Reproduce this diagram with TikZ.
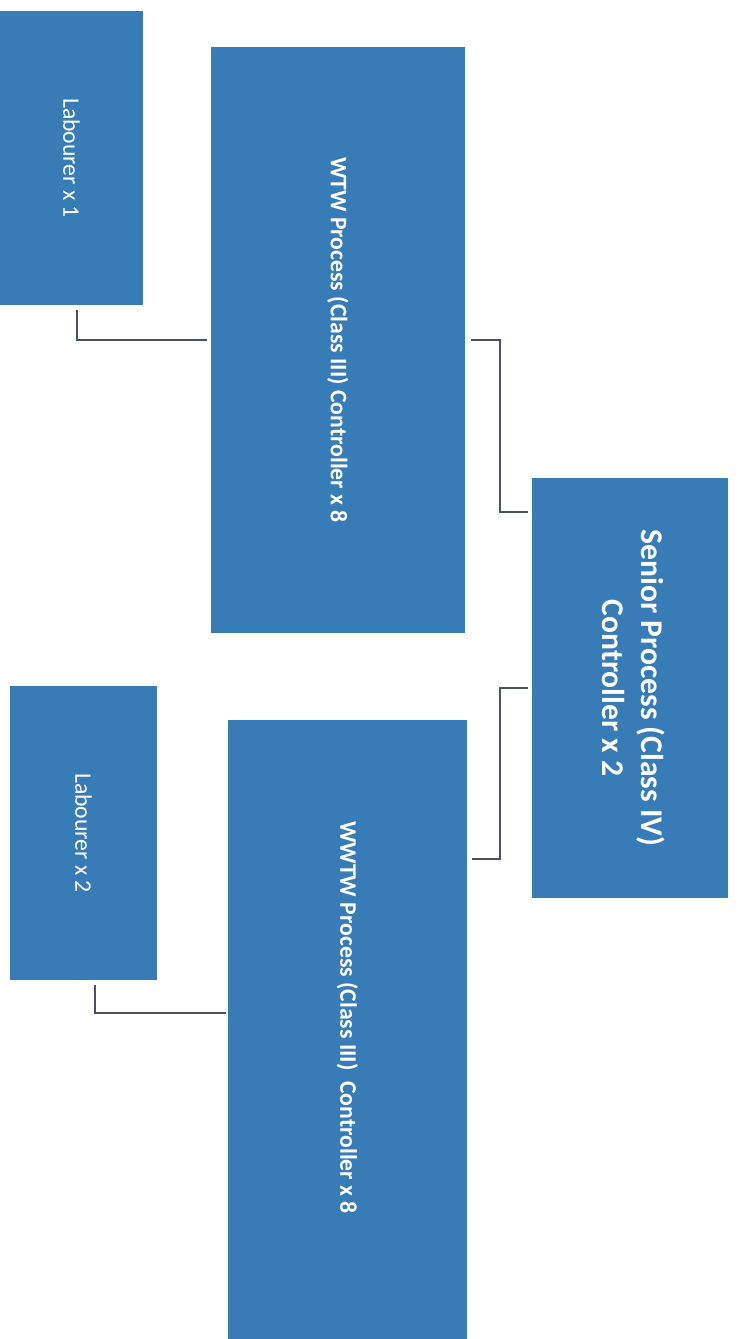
\documentclass[tikz,border=0pt]{standalone}
\usepackage{fontspec}
\setmainfont{Carlito}
\usepackage{tikz}
\usetikzlibrary{positioning}

\definecolor{boxblue}{RGB}{55,124,182}
\definecolor{linkgray}{RGB}{72,82,100}

\begin{document}
\begin{tikzpicture}[
        x=0.02cm, y=-0.02cm,
        box/.style={draw=none, rectangle, fill=boxblue, text=white, inner sep=0pt, align=center},
        link/.style={draw=linkgray, line width=1.2pt}
    ]
        \useasboundingbox (0,0) rectangle (738,1339);
        \clip (0,0) rectangle (738,1339);

        \node[box, minimum width=2.86cm, minimum height=5.88cm, font=\fontsize{13.5}{16}\selectfont] (lab1) at (71.5,158) {\rotatebox{-90}{Labourer x 1}};
        \node[box, minimum width=5.08cm, minimum height=11.72cm, font=\bfseries\fontsize{13.5}{16}\selectfont] (wtw) at (338,340) {\rotatebox{-90}{WTW Process (Class III) Controller x 8}};
        \node[box, minimum width=3.92cm, minimum height=8.4cm, font=\bfseries\fontsize{18}{22}\selectfont] (senior) at (630,688) {\rotatebox{-90}{\begin{tabular}{@{}c@{}}Senior Process (Class IV)\\Controller x 2\end{tabular}}};
        \node[box, minimum width=2.94cm, minimum height=5.88cm, font=\fontsize{13.5}{16}\selectfont] (lab2) at (83.5,833) {\rotatebox{-90}{Labourer x 2}};
        \node[box, minimum width=4.78cm, minimum height=12.5cm, font=\bfseries\fontsize{13.5}{16}\selectfont] (wwtw) at (347.5,1032.5) {\rotatebox{-90}{WWTW Process (Class III)\ \ Controller x 8\hspace{17pt}}};

        % elbow connectors
        \draw[link] ([xshift=0.11cm,yshift=-0.1cm]lab1.south) |- ([xshift=-0.08cm]wtw.west);
        \draw[link] ([xshift=0.12cm]wtw.east) -- ++(29,0) |- ([xshift=-0.08cm,yshift=-0.68cm]senior.north west);
        \draw[link] ([xshift=-0.08cm]senior.west) -- ++(-28,0) |- ([xshift=0.1cm,yshift=-2.78cm]wwtw.north east);
        \draw[link] ([xshift=0.23cm,yshift=-0.1cm]lab2.south) |- ([xshift=-0.04cm,yshift=-5.86cm]wwtw.north west);
    \end{tikzpicture}
\end{document}
